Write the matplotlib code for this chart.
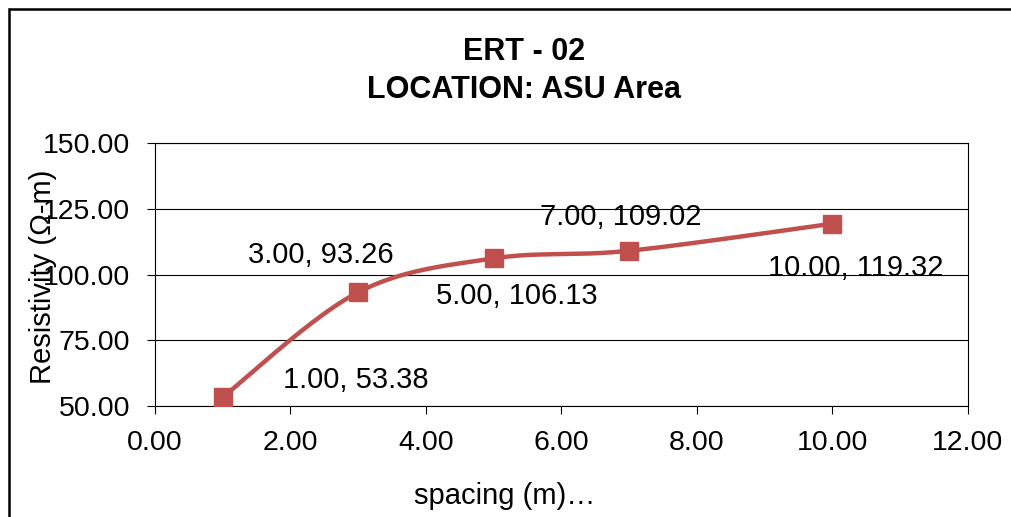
import numpy as np
import matplotlib
matplotlib.use("Agg")
import matplotlib.pyplot as plt
from matplotlib.lines import Line2D

plt.rcParams['font.family'] = ['Liberation Sans', 'DejaVu Sans']

# dati
spacing = [1.00, 3.00, 5.00, 7.00, 10.00]
resistivity = [53.38, 93.26, 106.13, 109.02, 119.32]
x_ticks = [0, 2, 4, 6, 8, 10, 12]
y_ticks = [50, 75, 100, 125, 150]
# spostamento delle etichette (punti)
label_offsets = [(96, 12), (-27, 27), (17, -27), (-6, 24), (17, -32)]

colore = '#C0504D'


# curva liscia tipo Excel (Bezier Catmull-Rom)
def curva_liscia(xs, ys, n=40):
    p = np.column_stack([xs, ys])
    p = np.vstack([p[0], p, p[-1]])
    out = []
    for i in range(1, len(p) - 2):
        p0, p1, p2, p3 = p[i - 1], p[i], p[i + 1], p[i + 2]
        b1 = p1 + (p2 - p0) / 6
        b2 = p2 - (p3 - p1) / 6
        t = np.linspace(0, 1, n)[:, None]
        seg = (1 - t) ** 3 * p1 + 3 * (1 - t) ** 2 * t * b1 + 3 * (1 - t) * t ** 2 * b2 + t ** 3 * p2
        out.append(seg)
    out = np.vstack(out)
    return out[:, 0], out[:, 1]


fig = plt.figure(figsize=(10.11, 5.17), dpi=100)
fig.patch.set_linewidth(0)
ax = fig.add_axes([0.1533, 0.2147, 0.804, 0.5087])

cx, cy = curva_liscia(spacing, resistivity)
ax.plot(cx, cy, color=colore, lw=3.2, solid_capstyle='round', zorder=3)
ax.plot(spacing, resistivity, 's', color=colore, markersize=12.5, zorder=4)

for x, y, off in zip(spacing, resistivity, label_offsets):
    ax.annotate(f'{x:.2f}, {y:.2f}', (x, y), xytext=off, textcoords='offset points',
                ha='center', va='center', fontsize=21, zorder=5)

ax.set_xlim(0, 12)
ax.set_ylim(50, 150)
ax.set_xticks(x_ticks)
ax.set_yticks(y_ticks)
ax.set_xticklabels([f'{v:.2f}' for v in x_ticks])
ax.set_yticklabels([f'{v:.2f}' for v in y_ticks])
ax.tick_params(axis='both', labelsize=20.5, direction='out', length=6, width=0.8, color='black')
ax.tick_params(axis='y', pad=12)
ax.tick_params(axis='x', pad=11)
ax.yaxis.grid(True, color='black', lw=0.8)
ax.set_axisbelow(True)
for s in ax.spines.values():
    s.set_color('black')
    s.set_linewidth(0.8)

fig.text(524 / 1011, 1 - 52 / 517, 'ERT - 02', ha='center', va='center', fontsize=22, fontweight='bold')
fig.text(524 / 1011, 1 - 90 / 517, 'LOCATION: ASU Area', ha='center', va='center', fontsize=22, fontweight='bold')
fig.text(505 / 1011, 1 - 496 / 517, 'spacing (m)…', ha='center', va='center', fontsize=21)
fig.text(43 / 1011, 1 - 277 / 517, 'Resistivity (Ω-m)', ha='center', va='center', fontsize=21, rotation=90)

# cornice esterna (solo lato sinistro e superiore visibili)
bx, by = 8.5 / 1011, 1 - 8.5 / 517
fig.add_artist(Line2D([bx, bx], [0, by], transform=fig.transFigure, color='black', lw=1.8,
                      solid_capstyle='projecting'))
fig.add_artist(Line2D([bx, 1.01], [by, by], transform=fig.transFigure, color='black', lw=1.8,
                      solid_capstyle='butt'))

fig.savefig('out.png', dpi=100)
